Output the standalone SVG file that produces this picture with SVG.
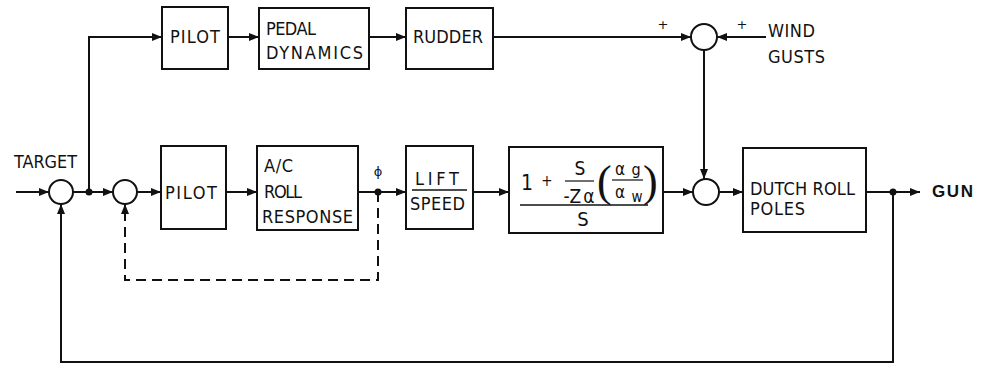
<svg xmlns="http://www.w3.org/2000/svg" width="981" height="374" viewBox="0 0 981 374">
<defs>
<style>
.bx{fill:#fff;stroke:#111;stroke-width:2}
.ln{fill:none;stroke:#111;stroke-width:2}
.ds{fill:none;stroke:#111;stroke-width:2;stroke-dasharray:10,6}
.sj{fill:#fff;stroke:#111;stroke-width:2}
.t{font-family:"DejaVu Sans Condensed","Liberation Sans Narrow","Liberation Sans",sans-serif;font-size:18px;fill:#111}
.s{font-family:"DejaVu Sans","Liberation Sans",sans-serif;font-size:13px;fill:#111}
.g{font-family:"Liberation Sans",sans-serif;font-size:17px;font-weight:bold;fill:#111}
.m{font-family:"DejaVu Sans Condensed","Liberation Sans",sans-serif;fill:#111}
.p{font-family:"Liberation Serif",serif;font-size:44px;fill:#111}
</style>
<marker id="ah" viewBox="0 0 10 8" refX="10" refY="4" markerWidth="11" markerHeight="8" markerUnits="userSpaceOnUse" orient="auto">
<path d="M0,0 L10,4 L0,8 Z" fill="#111"/>
</marker>
</defs>
<rect width="981" height="374" fill="#fff"/>

<g id="connectors">
<path class="ln" d="M89,192 V37 H162" marker-end="url(#ah)"/>
<path class="ln" d="M228,37 H259" marker-end="url(#ah)"/>
<path class="ln" d="M369,37 H406" marker-end="url(#ah)"/>
<path class="ln" d="M493,37 H691" marker-end="url(#ah)"/>
<path class="ln" d="M766,37 H717" marker-end="url(#ah)"/>
<path class="ln" d="M704,50 V179" marker-end="url(#ah)"/>
<path class="ln" d="M16,192 H49" marker-end="url(#ah)"/>
<path class="ln" d="M73,192 H113" marker-end="url(#ah)"/>
<path class="ln" d="M137,192 H161" marker-end="url(#ah)"/>
<path class="ln" d="M226,192 H257" marker-end="url(#ah)"/>
<path class="ln" d="M358,192 H406" marker-end="url(#ah)"/>
<path class="ln" d="M473,192 H509" marker-end="url(#ah)"/>
<path class="ln" d="M663,192 H693" marker-end="url(#ah)"/>
<path class="ln" d="M719,192 H743" marker-end="url(#ah)"/>
<path class="ln" d="M866,192 H920" marker-end="url(#ah)"/>
<path class="ln" d="M893,192 V362 H61 V204" marker-end="url(#ah)"/>
<path class="ds" d="M378,192 V280 H125 V216"/>
<path class="ln" d="M125,218 V204" marker-end="url(#ah)"/>
<circle cx="89" cy="192" r="3.5" fill="#111"/>
<circle cx="378" cy="192" r="3.5" fill="#111"/>
<circle cx="893" cy="192" r="3.5" fill="#111"/>
</g>

<g id="sum1"><circle class="sj" cx="61" cy="192" r="12"/></g>
<g id="sum2"><circle class="sj" cx="125" cy="192" r="12"/></g>
<g id="sum3"><circle class="sj" cx="706" cy="192" r="13"/></g>
<g id="sum-top"><circle class="sj" cx="704" cy="37" r="13"/>
<text class="s" x="663" y="29" text-anchor="middle">+</text>
<text class="s" x="742" y="29" text-anchor="middle">+</text>
</g>

<g id="target"><text class="t" x="14" y="168" textLength="63" lengthAdjust="spacingAndGlyphs">TARGET</text></g>
<g id="wind"><text class="t" x="768" y="37" textLength="47" lengthAdjust="spacing">WIND</text><text class="t" x="768" y="63" textLength="57" lengthAdjust="spacing">GUSTS</text></g>
<g id="gun"><text class="g" x="932" y="197" textLength="41" lengthAdjust="spacing">GUN</text></g>
<g id="phi"><text class="s" x="378" y="176" text-anchor="middle" font-size="14">ϕ</text></g>

<g id="pilot-top"><rect class="bx" x="162" y="7" width="66" height="62"/>
<text class="t" x="170" y="43" textLength="50" lengthAdjust="spacing">PILOT</text></g>
<g id="pedal"><rect class="bx" x="259" y="8" width="110" height="61"/>
<text class="t" x="266" y="35" textLength="50" lengthAdjust="spacing">PEDAL</text><text class="t" x="266" y="59" textLength="97" lengthAdjust="spacing">DYNAMICS</text></g>
<g id="rudder"><rect class="bx" x="406" y="8" width="87" height="61"/>
<text class="t" x="413" y="43" textLength="70" lengthAdjust="spacing">RUDDER</text></g>

<g id="pilot"><rect class="bx" x="161" y="146" width="65" height="83"/>
<text class="t" x="165" y="199" textLength="52" lengthAdjust="spacing">PILOT</text></g>
<g id="roll"><rect class="bx" x="257" y="146" width="101" height="84"/>
<text class="t" x="264" y="172" textLength="29" lengthAdjust="spacing">A/C</text><text class="t" x="264" y="198" textLength="38" lengthAdjust="spacing">ROLL</text><text class="t" x="262" y="223" textLength="91" lengthAdjust="spacing">RESPONSE</text></g>
<g id="lift"><rect class="bx" x="406" y="146" width="67" height="83"/>
<text class="t" x="415" y="185" textLength="44" lengthAdjust="spacing">LIFT</text>
<line x1="412" y1="190" x2="467" y2="190" stroke="#111" stroke-width="1.5"/>
<text class="t" x="410" y="210" textLength="55" lengthAdjust="spacing">SPEED</text></g>

<g id="transfer"><rect class="bx" x="509" y="147" width="154" height="86"/>
<text class="m" x="521" y="190" font-size="21">1</text>
<text class="m" x="547" y="186" font-size="15" text-anchor="middle">+</text>
<text class="m" x="580" y="175" font-size="19" text-anchor="middle">S</text>
<line x1="565" y1="181" x2="594" y2="181" stroke="#111" stroke-width="1.2"/>
<text class="m" x="579" y="203" font-size="19" text-anchor="middle">-Z<tspan dx="2">α</tspan></text>
<text class="p" x="597" y="196">(</text>
<text class="m" x="620" y="175" font-size="17" text-anchor="middle">α</text>
<text class="m" x="636" y="175" font-size="16" text-anchor="middle">g</text>
<line x1="612" y1="180" x2="643" y2="180" stroke="#111" stroke-width="1.2"/>
<text class="m" x="620" y="198" font-size="17" text-anchor="middle">α</text>
<text class="m" x="637" y="202" font-size="15" text-anchor="middle">w</text>
<text class="p" x="643" y="196">)</text>
<line x1="520" y1="205" x2="648" y2="205" stroke="#111" stroke-width="1.5"/>
<text class="m" x="583" y="226" font-size="20" text-anchor="middle">S</text></g>

<g id="dutch"><rect class="bx" x="743" y="148" width="123" height="84"/>
<text class="t" x="750" y="195" textLength="105" lengthAdjust="spacing">DUTCH ROLL</text><text class="t" x="750" y="215" textLength="55" lengthAdjust="spacing">POLES</text></g>
</svg>
